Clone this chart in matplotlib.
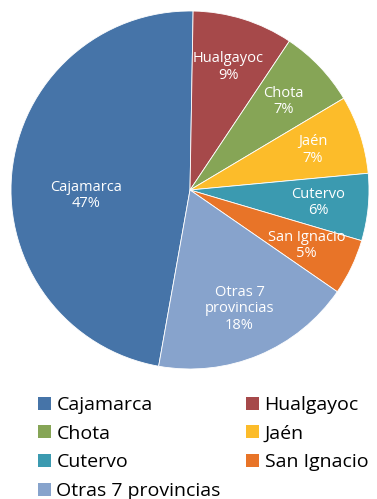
import numpy as np
import matplotlib.pyplot as plt
from matplotlib.patches import Patch

plt.rcParams['font.family'] = ['Open Sans', 'DejaVu Sans']

# provinces and their share (%)
provincias = ['Cajamarca', 'Hualgayoc', 'Chota', 'Jaén', 'Cutervo',
              'San Ignacio', 'Otras 7 provincias']
etiquetas = ['Cajamarca', 'Hualgayoc', 'Chota', 'Jaén', 'Cutervo',
             'San Ignacio', 'Otras 7\nprovincias']
porcentajes = [47, 9, 7, 7, 6, 5, 18]
colores = ['#4674A8', '#A6494A', '#86A556', '#FCBC2A', '#3B9AB0',
           '#E87428', '#87A3CC']

fig = plt.figure(figsize=(3.77, 4.99), dpi=100)
ax = fig.add_axes([11/377, 130/499, 358/377, 358/499])

# Cajamarca closes just right of the top, slices run clockwise
inicio = 90 + 360*porcentajes[0]/sum(porcentajes) - 1
wedges, texts = ax.pie(porcentajes, colors=colores, startangle=inicio,
                       counterclock=False,
                       labels=[f"{e}\n{p}%" for e, p in zip(etiquetas, porcentajes)],
                       labeldistance=0.72,
                       wedgeprops=dict(edgecolor='white', linewidth=0.6))
for i, t in enumerate(texts):
    t.set_color('white')
    t.set_fontsize(10.5)
    t.set_ha('center')
    t.set_va('center')
    t.set_linespacing(1.1)
texts[0].set_position((-0.58, -0.03))
ax.set_xlim(-1, 1)
ax.set_ylim(-1, 1)
ax.set_aspect('equal')

# legend filled row by row in two columns
orden = [0, 2, 4, 6, 1, 3, 5]
handles = [Patch(facecolor=colores[i], edgecolor='none') for i in orden]
fig.legend(handles, [provincias[i] for i in orden], ncol=2,
           loc='upper left', bbox_to_anchor=(38/377, 1 - 396/499),
           frameon=False, fontsize=14, handlelength=0.65, handleheight=0.65,
           handletextpad=0.3, columnspacing=1.3, labelspacing=0.55,
           borderaxespad=0, borderpad=0)

fig.savefig('out.png', dpi=100)
